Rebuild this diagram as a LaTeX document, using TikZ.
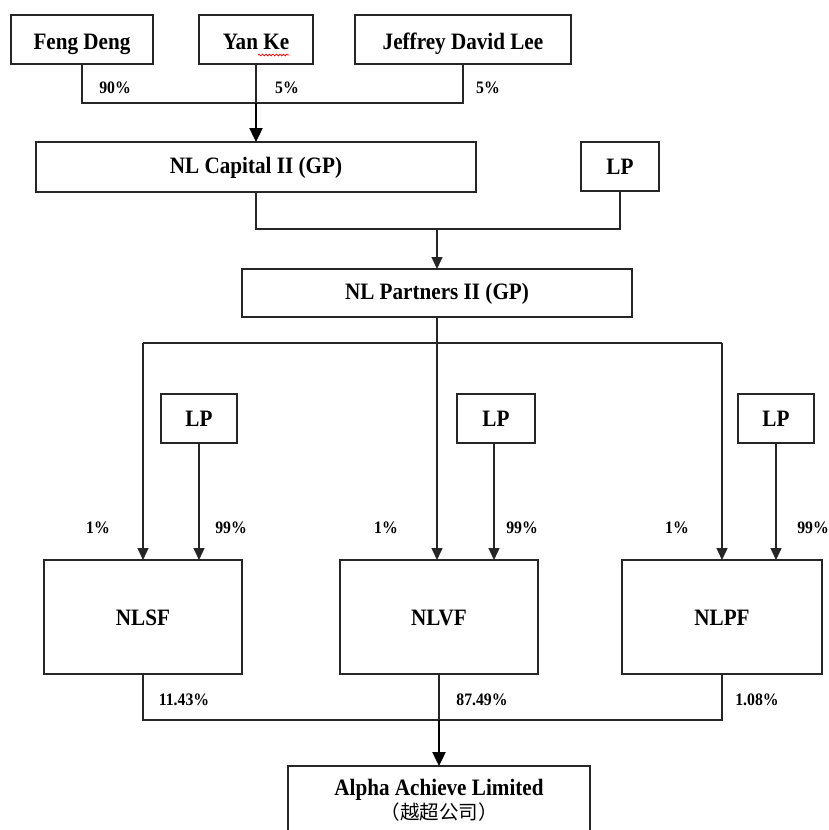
\documentclass[tikz,border=0pt]{standalone}
\usepackage{fontspec}
\setmainfont{Liberation Serif}[FakeStretch=0.9]
\newfontfamily\cjk{Noto Sans CJK SC}
\usetikzlibrary{arrows.meta,decorations.pathmorphing}
\begin{document}
\begin{tikzpicture}[x=1pt,y=-1pt,
  boxbase/.style={draw=black!85, line width=1.4pt, inner sep=0pt, outer sep=0pt,
    font=\bfseries\fontsize{23.5}{24}\selectfont, align=center},
  box/.style={boxbase, text height=17pt, text depth=1pt},
  toprow/.style={text height=20pt, text depth=0pt},
  ln/.style={draw=black!85, line width=1.4pt},
  arr/.style={ln, -{Triangle[length=12pt,width=11pt]}},
  tarr/.style={draw=black, line width=2.4pt, -{Triangle[length=14pt,width=13pt]}},
  pct/.style={font=\bfseries\fontsize{17.5}{20}\selectfont, inner sep=0pt},
]
\clip (0,0) rectangle (828,830);
\fill[white] (0,0) rectangle (828,830);

% top owners
\node[box, toprow, minimum width=142pt, minimum height=49pt] (feng) at (82,39.5) {Feng Deng};
\node[box, toprow, minimum width=114pt, minimum height=49pt] (yan) at (256,39.5) {Yan Ke};
\node[box, toprow, minimum width=216pt, minimum height=49pt] (jeff) at (463,39.5) {Jeffrey David Lee};
\draw[red, line width=0.7pt, decorate, decoration={snake, segment length=3.5pt, amplitude=0.9pt}] (258,55) -- (289,55);

\coordinate (j1) at (256,103);
\draw[ln] (feng.south) |- (j1);
\draw[ln] (jeff.south) |- (j1);
\draw[ln] (yan.south) -- (j1);
\node[pct] (p90) at (115,88) {90\%};
\node[pct] (p5a) at (287,88) {5\%};
\node[pct] (p5b) at (488,88) {5\%};

% NL Capital
\node[box, minimum width=440pt, minimum height=50pt, text height=17pt, text depth=5pt] (cap) at (256,167) {NL Capital II (GP)};
\node[box, minimum width=78pt, minimum height=49pt] (lp0) at (620,166.5) {LP};
\draw[tarr] (j1) -- (cap.north);

\coordinate (j2) at (437,229);
\draw[ln] (cap.south) |- (j2);
\draw[ln] (lp0.south) |- (j2);

% NL Partners
\node[box, minimum width=390pt, minimum height=48pt, text height=17pt, text depth=5pt] (part) at (437,293) {NL Partners II (GP)};
\draw[arr] (j2) -- (part.north);

\coordinate (j3) at (437,343);
\coordinate (jl) at (143,343);
\coordinate (jr) at (722,343);
\draw[ln] (part.south) -- (j3);
\draw[ln] (jl) -- (jr);

% funds
\node[box, minimum width=198pt, minimum height=114pt] (nlsf) at (143,617) {NLSF};
\node[box, minimum width=198pt, minimum height=114pt] (nlvf) at (439,617) {NLVF};
\node[box, minimum width=200pt, minimum height=114pt] (nlpf) at (722,617) {NLPF};

\node[box, minimum width=76pt, minimum height=49pt] (lp1) at (199,418.5) {LP};
\node[box, minimum width=78pt, minimum height=49pt] (lp2) at (496,418.5) {LP};
\node[box, minimum width=76pt, minimum height=49pt] (lp3) at (776,418.5) {LP};

\draw[arr] (jl) -- (nlsf.north);
\draw[arr] (j3) -- (j3 |- nlvf.north);
\draw[arr] (jr) -- (nlpf.north);
\draw[arr] (lp1.south) -- (lp1.south |- nlsf.north);
\draw[arr] ([xshift=-2pt]lp2.south) -- ([xshift=-2pt]lp2.south |- nlvf.north);
\draw[arr] (lp3.south) -- (lp3.south |- nlpf.north);

\node[pct] (q1) at (98,528) {1\%};
\node[pct] (q2) at (386,528) {1\%};
\node[pct] (q3) at (677,528) {1\%};
\node[pct] (r1) at (231,528) {99\%};
\node[pct] (r2) at (522,528) {99\%};
\node[pct] (r3) at (813,528) {99\%};

% bottom
\coordinate (j4) at (439,720);
\draw[ln] (nlsf.south) |- (j4);
\draw[ln] (nlpf.south) |- (j4);
\draw[ln] (nlvf.south) -- (j4);
\node[pct] (s1) at (184,700) {11.43\%};
\node[pct] (s2) at (482,700) {87.49\%};
\node[pct] (s3) at (757,700) {1.08\%};

\node[boxbase, minimum width=302pt, minimum height=68pt] (alpha) at (439,800)
  {Alpha Achieve Limited\\{\cjk\mdseries\fontsize{19.5}{20}\selectfont （越超公司）}};
\draw[tarr] (j4) -- (alpha.north);
\end{tikzpicture}
\end{document}
